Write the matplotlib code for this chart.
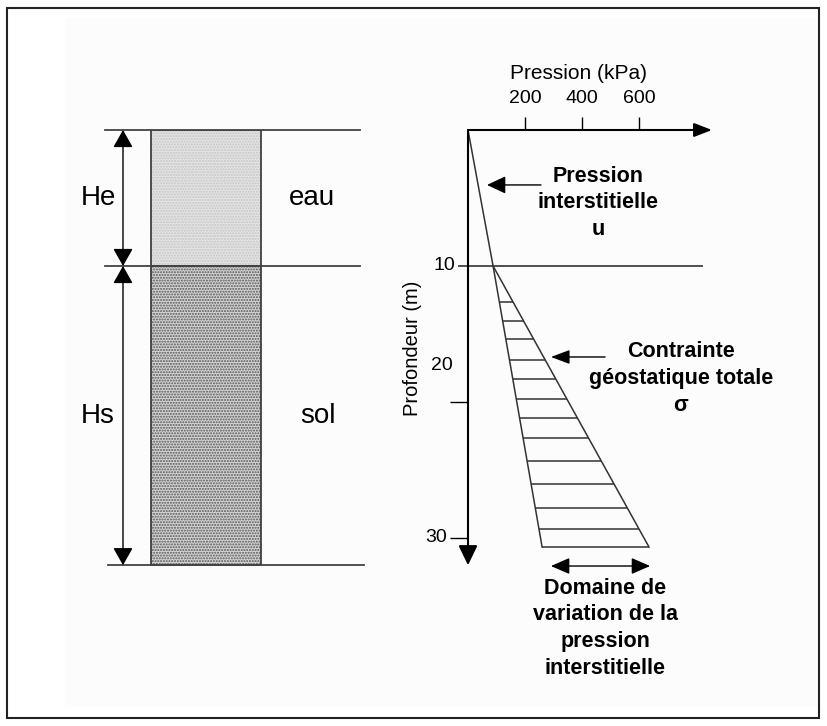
import numpy as np
import matplotlib
matplotlib.use('Agg')
import matplotlib.pyplot as plt
from matplotlib.patches import Rectangle

plt.rcParams['font.family'] = ['Liberation Sans', 'DejaVu Sans']

# soil column (m)
layer_names = ['eau', 'sol']
layer_labels = ['He', 'Hs']
layer_thick = [10, 22]

# pressure profiles: depth (m) / pressure (kPa)
u_depth = [0, 10, 30.66]
u_press = [0, 88, 260]
s_depth = [10, 30.66]
s_press = [88, 635]
hatch_depth = [12.65, 14.04, 15.37, 16.91, 18.31, 19.78, 21.18, 22.65,
               24.34, 26.03, 27.79, 29.34, 30.66]

x_ticks = [200, 400, 600]
y_ticks = [10, 20, 30]
y_tick_labels = ['10', '20', '30']

W, H = 827, 726
fig = plt.figure(figsize=(W / 100, H / 100), dpi=100)

# frame + faint background
fig.add_artist(Rectangle((65 / W, (H - 707) / H), 753 / W, 689 / H,
                         transform=fig.transFigure, facecolor='#fcfcfc',
                         edgecolor='none', zorder=-5))
fig.add_artist(Rectangle((7 / W, (H - 718) / H), 812 / W, 710 / H,
                         transform=fig.transFigure, facecolor='none',
                         edgecolor='#222222', lw=1.5))

# chart axes: origin at px (468,130), 0.285 px/kPa, 13.6 px/m
xmax, zmax = 900, 34
ax_left_px, ax_top_px = 468, 130
ax_w, ax_h = xmax * 0.285, zmax * 13.6
ax = fig.add_axes([ax_left_px / W, (H - ax_top_px - ax_h) / H, ax_w / W, ax_h / H])
ax.set_xlim(0, xmax)
ax.set_ylim(zmax, 0)
ax.axis('off')

# left schematic axes, same depth scale, x in px
axl = fig.add_axes([60 / W, (H - ax_top_px - ax_h) / H, 340 / W, ax_h / H])
axl.set_xlim(60, 400)
axl.set_ylim(zmax, 0)
axl.axis('off')

txt = dict(color='black', clip_on=False)

# ---- left: soil column
bounds = np.concatenate([[0], np.cumsum(layer_thick)])
for i, b in enumerate(bounds):
    x0, x1 = (105, 360) if i < len(bounds) - 1 else (108, 364)
    axl.plot([x0, x1], [b, b], color='#444444', lw=1.3, clip_on=False)

fills = [('#e4e4e4', '#c4c4c4', '......'), ('#d4d4d4', '#555555', '......')]
for i in range(len(layer_thick)):
    top, bot = bounds[i], bounds[i + 1]
    fc, hc, hp = fills[i]
    axl.add_patch(Rectangle((151, top), 110, bot - top, facecolor=fc,
                            edgecolor=hc, hatch=hp, lw=0))
    axl.add_patch(Rectangle((151, top), 110, bot - top, facecolor='none',
                            edgecolor='#333333', lw=1.2))
    axl.annotate('', xy=(123, bot), xytext=(123, top),
                 arrowprops=dict(arrowstyle='<|-|>,head_length=1.08,head_width=0.61',
                                 mutation_scale=10, lw=1.0, color='black',
                                 shrinkA=0, shrinkB=0))
    mid = (top + bot) / 2
    axl.text(98, mid, layer_labels[i], fontsize=20, ha='center', va='center', **txt)
    axl.text(312 if i == 0 else 318, mid, layer_names[i], fontsize=20,
             ha='center', va='center', **txt)

# ---- right: pressure chart
ax.annotate('', xy=(856, 0), xytext=(0, 0), annotation_clip=False,
            arrowprops=dict(arrowstyle='-|>,head_length=1.08,head_width=0.42',
                            mutation_scale=10, lw=1.5, color='black',
                            shrinkA=0, shrinkB=0))
ax.annotate('', xy=(0, 32.0), xytext=(0, 0), annotation_clip=False,
            arrowprops=dict(arrowstyle='-|>,head_length=1.2,head_width=0.58',
                            mutation_scale=10, lw=1.5, color='black',
                            shrinkA=0, shrinkB=0))
ax.vlines(x_ticks, -0.95, 0, color='black', lw=1.0, clip_on=False)
for t in x_ticks:
    ax.text(t, -2.28, str(t), fontsize=14, ha='center', va='center', **txt)
ax.text(386, -4.12, 'Pression (kPa)', fontsize=15, ha='center', va='center', **txt)

# depth ticks (the 10 m line crosses the chart)
ax.hlines(10, -35, 825, color='#333333', lw=1.2, clip_on=False)
ax.hlines([20, 30], -63, 0, color='black', lw=1.0, clip_on=False)
ytl_pos = [(-45, 10), (-52, 17.35), (-73, 30)]
for (xp, zp), lab in zip(ytl_pos, y_tick_labels):
    ax.text(xp, zp, lab, fontsize=14, ha='right', va='center', **txt)
ax.text(-193, 16.03, 'Profondeur (m)', fontsize=14.5, rotation=90,
        ha='center', va='center', **txt)

# profiles
ax.plot(u_press, u_depth, color='#333333', lw=1.1, clip_on=False)
ax.plot(s_press, s_depth, color='#333333', lw=1.1, clip_on=False)
hz = np.array(hatch_depth)
ax.hlines(hz, np.interp(hz, u_depth, u_press), np.interp(hz, s_depth, s_press),
          color='#333333', lw=1.1, clip_on=False)

# annotations
ax.annotate('', xy=(66.7, 4.04), xytext=(256, 4.04), annotation_clip=False,
            arrowprops=dict(arrowstyle='-|>,head_length=1.15,head_width=0.54',
                            mutation_scale=10, lw=1.0, color='black',
                            shrinkA=0, shrinkB=0))
for z, s in zip([3.82, 5.74, 7.72], ['Pression', 'interstitielle', 'u']):
    ax.text(456, z, s, fontsize=15.5, fontweight='bold', ha='center',
            va='baseline', **txt)

ax.annotate('', xy=(291, 16.69), xytext=(481, 16.69), annotation_clip=False,
            arrowprops=dict(arrowstyle='-|>,head_length=1.15,head_width=0.43',
                            mutation_scale=10, lw=1.0, color='black',
                            shrinkA=0, shrinkB=0))
for z, s in zip([16.69, 18.68, 20.66], ['Contrainte', 'géostatique totale', 'σ']):
    ax.text(747, z, s, fontsize=15.5, fontweight='bold', ha='center',
            va='baseline', **txt)

ax.annotate('', xy=(639, 32.06), xytext=(291, 32.06), annotation_clip=False,
            arrowprops=dict(arrowstyle='<|-|>,head_length=1.15,head_width=0.5',
                            mutation_scale=10, lw=1.0, color='black',
                            shrinkA=0, shrinkB=0))
for z, s in zip([34.12, 36.03, 38.01, 40.0],
                ['Domaine de', 'variation de la', 'pression', 'interstitielle']):
    ax.text(481, z, s, fontsize=15.5, fontweight='bold', ha='center',
            va='baseline', **txt)

fig.savefig('out.png', dpi=100)
